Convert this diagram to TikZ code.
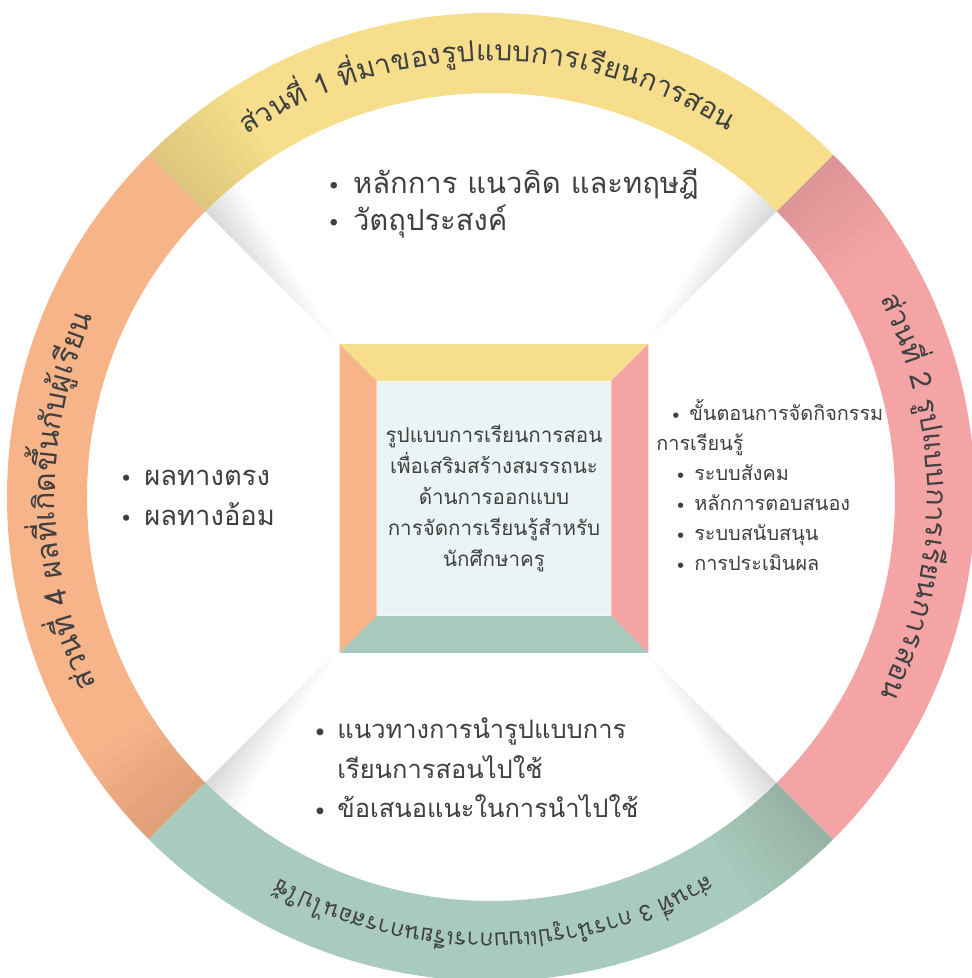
\documentclass[tikz,border=0pt]{standalone}
\usepackage{fontspec}
\newfontfamily\thaifont[Script=Thai]{Loma}
\usetikzlibrary{positioning}

\definecolor{partyellow}{RGB}{246,222,140}
\definecolor{partpink}{RGB}{245,164,165}
\definecolor{partgreen}{RGB}{168,203,189}
\definecolor{partorange}{RGB}{248,180,137}
\definecolor{corefill}{RGB}{234,244,244}
\definecolor{inktext}{RGB}{64,64,64}

\newcommand\itm{{\rmfamily\textbullet}\hspace{0.3em}}

% text bent along the ring, read clockwise: measure the pieces first,
% then keep a list piece/angle for the picture
% #1 list macro, #2 size macro, #3 centre angle, #4 span (deg), #5 pieces
\newdimen\chunkw
\newdimen\labelw
\newdimen\labelacc
\newcommand\preparering[5]{%
  \global\labelw=0pt
  \foreach \seg in {#5}{%
    \settowidth\chunkw{\thaifont\fontsize{10}{10}\selectfont\seg}%
    \global\advance\labelw by \chunkw}%
  \pgfmathsetmacro#2{10*(#4/180*pi*436*0.569055)/\labelw}%
  \global\let#2#2%
  \global\labelw=0pt
  \foreach \seg in {#5}{%
    \settowidth\chunkw{\thaifont\fontsize{#2}{#2}\selectfont\seg}%
    \global\advance\labelw by \chunkw}%
  \global\labelacc=0pt
  \gdef#1{}%
  \foreach \seg in {#5}{%
    \settowidth\chunkw{\thaifont\fontsize{#2}{#2}\selectfont\seg}%
    \pgfmathsetmacro\ang{#3+deg((0.5*\labelw-\labelacc-0.5*\chunkw)/(436*0.569055))}%
    \ifx#1\empty\xdef#1{{\seg}/\ang}\else\xdef#1{#1,{\seg}/\ang}\fi
    \global\advance\labelacc by \chunkw}%
}

\begin{document}
\preparering{\listone}{\sizeone}{90.5}{67}{ส่วน,ที่,\ ,1,\ ,ที่,มา,ของ,รูป,แบบ,การ,เรียน,การ,สอน}
\preparering{\listtwo}{\sizetwo}{0}{54}{ส่วน,ที่,\ ,2,\ ,รูป,แบบ,การ,เรียน,การ,สอน}
\preparering{\listthree}{\sizethree}{270.4}{59}{ส่วน,ที่,\ ,3,\ ,การ,นำ,รูป,แบบ,การ,เรียน,การ,สอน,ไป,ใช้}
\preparering{\listfour}{\sizefour}{180.5}{50}{ส่วน,ที่,\ ,4,\ ,ผล,ที่,เกิด,ขึ้น,กับ,ผู้,เรียน}
\begin{tikzpicture}[x=0.02cm, y=0.02cm,
  ringtext/.style={text=inktext, inner sep=0pt, anchor=base},
  listtext/.style={text=inktext, inner sep=0pt, align=left}]
  \useasboundingbox[fill=white] (-491,-481) rectangle (481,497);

  % soft grey wedges along the diagonals, on the side of the top and bottom parts
  \foreach \a/\s in {45/1, 135/-1, 225/1, 315/-1}{
    \begin{scope}[rotate=\a]
      \foreach \k in {1,...,10}
        \fill[black, opacity=0.014] (420,0) -- (404-\k*18.8,0) -- (420,\s*\k*4.6) -- cycle;
    \end{scope}
  }

  % the four parts of the ring
  \foreach \col/\a in {partpink/-45, partyellow/45, partorange/135, partgreen/225}{
    \fill[\col] (\a:484) arc[start angle=\a, end angle=\a+90, radius=484]
      -- ({\a+90}:404) arc[start angle=\a+90, end angle=\a, radius=404] -- cycle;
    % darker where the part tucks under its neighbour
    \foreach \k in {1,...,8}
      \fill[black, opacity=0.01] ({\a+90}:484) arc[start angle=\a+90, end angle=\a+90-\k*1.5, radius=484]
        -- ({\a+90-\k*1.5}:404) arc[start angle=\a+90-\k*1.5, end angle=\a+90, radius=404] -- cycle;
  }

  % ring titles
  \foreach \seg/\ang [count=\i] in \listone
    \node[ringtext, font={\thaifont\fontsize{\sizeone}{\sizeone}\selectfont}, rotate=\ang-90] (part1-\i) at (\ang:436) {\seg};
  \foreach \seg/\ang [count=\i] in \listtwo
    \node[ringtext, font={\thaifont\fontsize{\sizetwo}{\sizetwo}\selectfont}, rotate=\ang-90] (part2-\i) at (\ang:436) {\seg};
  \foreach \seg/\ang [count=\i] in \listthree
    \node[ringtext, font={\thaifont\fontsize{\sizethree}{\sizethree}\selectfont}, rotate=\ang-90] (part3-\i) at (\ang:436) {\seg};
  \foreach \seg/\ang [count=\i] in \listfour
    \node[ringtext, font={\thaifont\fontsize{\sizefour}{\sizefour}\selectfont}, rotate=\ang-90] (part4-\i) at (\ang:436) {\seg};

  % centre frame
  \node[minimum size=6.16cm, inner sep=0pt] (frame) at (3,-1.5) {};
  \node[fill=corefill, minimum size=4.68cm, inner sep=0pt, text width=4.4cm, align=center,
    text=inktext, font={\thaifont\fontsize{11.7}{17.6}\selectfont}] (core) at (frame.center)
    {รูปแบบการเรียนการสอน\\เพื่อเสริมสร้างสมรรถนะ\\ด้านการออกแบบ\\การจัดการเรียนรู้สำหรับ\\นักศึกษาครู};
  \fill[partyellow] (frame.north west) -- (frame.north east) -- (core.north east) -- (core.north west) -- cycle;
  \fill[partpink] (frame.north east) -- (frame.south east) -- (core.south east) -- (core.north east) -- cycle;
  \fill[partgreen] (frame.south east) -- (frame.south west) -- (core.south west) -- (core.south east) -- cycle;
  \fill[partorange] (frame.south west) -- (frame.north west) -- (core.north west) -- (core.south west) -- cycle;

  % contents of each part
  \node[listtext, anchor=west, font={\thaifont\fontsize{16.6}{21}\selectfont}] (origin) at (-168,294)
    {\itm หลักการ แนวคิด และทฤษฎี\\\itm วัตถุประสงค์};
  \node[listtext, anchor=west, font={\thaifont\fontsize{11.3}{17}\selectfont}] (model) at (165,12)
    {\hspace*{0.6em}\itm ขั้นตอนการจัดกิจกรรม\\การเรียนรู้\\\hspace*{0.85em}\itm ระบบสังคม\\\hspace*{0.85em}\itm หลักการตอบสนอง\\\hspace*{0.85em}\itm ระบบสนับสนุน\\\hspace*{0.85em}\itm การประเมินผล};
  \node[listtext, anchor=west, font={\thaifont\fontsize{15.6}{22.7}\selectfont}] (outcome) at (-375,-1)
    {\itm ผลทางตรง\\\itm ผลทางอ้อม};
  \node[listtext, anchor=west, font={\thaifont\fontsize{14.5}{22.4}\selectfont}] (usage) at (-181,-271)
    {\itm แนวทางการนำรูปแบบการ\\\hphantom{\itm}เรียนการสอนไปใช้\\\itm ข้อเสนอแนะในการนำไปใช้};
\end{tikzpicture}
\end{document}
